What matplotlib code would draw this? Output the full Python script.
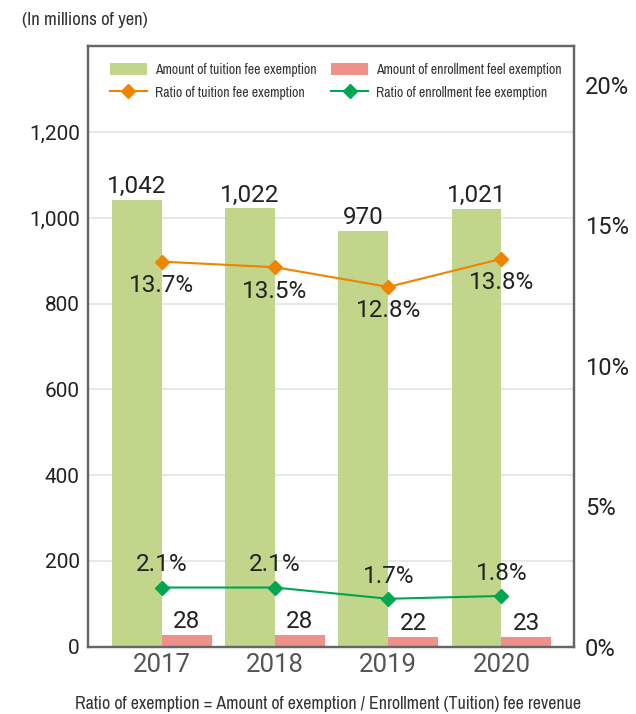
import matplotlib
matplotlib.use("Agg")
import matplotlib.pyplot as plt
import numpy as np
from matplotlib.patches import Patch
from matplotlib.lines import Line2D
from matplotlib import font_manager
from matplotlib.font_manager import FontProperties

years = ["2017", "2018", "2019", "2020"]
tuition_amount = [1042, 1022, 970, 1021]
enroll_amount = [28, 28, 22, 23]
tuition_ratio = [13.7, 13.5, 12.8, 13.8]
enroll_ratio = [2.1, 2.1, 1.7, 1.8]
left_ticks = [0, 200, 400, 600, 800, 1000, 1200]
right_ticks = [0, 5, 10, 15, 20]

names = {f.name for f in font_manager.fontManager.ttflist}
main_font = "Roboto" if "Roboto" in names else "DejaVu Sans"

def narrow_props(size):
    files = font_manager.findSystemFonts()
    for key in ("ArchivoNarrow[wght].ttf", "DejaVuSansCondensed.ttf"):
        for f in files:
            if f.endswith(key):
                return FontProperties(fname=f, size=size)
    return FontProperties(family="DejaVu Sans", stretch="condensed", size=size)

GREEN_BAR = "#c1d58b"
RED_BAR = "#f0908a"
ORANGE = "#f08300"
GREEN_LINE = "#00a652"
FRAME = "#666666"
TXT = "#222222"

fig = plt.figure(figsize=(6.36, 7.14), dpi=100)
ax = fig.add_axes([0.1384, 0.0945, 0.7641, 0.8404])
ax2 = ax.twinx()

x = np.arange(len(years))
w = 0.441
ax.bar(x - w / 2, tuition_amount, width=w, color=GREEN_BAR, zorder=2)
ax.bar(x + w / 2, enroll_amount, width=w, color=RED_BAR, zorder=2)

ax.set_xlim(-0.65, 3.64)
ax.set_ylim(0, 1400)
ax.set_yticks(left_ticks)
ax.set_yticklabels([f"{v:,}" for v in left_ticks], fontsize=15, color=TXT, family=main_font)
ax.set_xticks(x)
ax.set_xticklabels(years, fontsize=18.5, color="#555555", family=main_font)
ax.tick_params(axis="y", length=0, pad=6)
ax.tick_params(axis="x", length=0, pad=5)
ax.grid(axis="y", color="#e3e3e3", linewidth=1.2, zorder=0)
ax.set_axisbelow(True)

rmax = 1400 * 20 / 1311
ax2.set_ylim(0, rmax)
ax2.set_yticks(right_ticks)
ax2.set_yticklabels([f"{v}%" for v in right_ticks], fontsize=17, color=TXT, family=main_font)
ax2.tick_params(axis="y", length=0, pad=8)

for a in (ax, ax2):
    for s in a.spines.values():
        s.set_color(FRAME)
        s.set_linewidth(1.6)

ax2.plot(x, tuition_ratio, color=ORANGE, lw=1.5, marker="D", ms=7, zorder=4)
ax2.plot(x, enroll_ratio, color=GREEN_LINE, lw=1.5, marker="D", ms=7, zorder=4)

vfs = 17.5
for xi, v in zip(x, tuition_amount):
    ax.text(xi - w / 2, v + 4, f"{v:,}", ha="center", va="bottom", fontsize=vfs, color=TXT, family=main_font, zorder=5)
for xi, v in zip(x, enroll_amount):
    ax.text(xi + w / 2, v + 4, f"{v:,}", ha="center", va="bottom", fontsize=vfs, color=TXT, family=main_font, zorder=5)
for xi, v in zip(x, tuition_ratio):
    ax2.annotate(f"{v}%", (xi, v), xytext=(0, -9), textcoords="offset points", ha="center", va="top",
                 fontsize=vfs, color=TXT, family=main_font, zorder=5)
for xi, v in zip(x, enroll_ratio):
    ax2.annotate(f"{v}%", (xi, v), xytext=(0, 8), textcoords="offset points", ha="center", va="bottom",
                 fontsize=vfs, color=TXT, family=main_font, zorder=5)

handles = [
    Patch(facecolor=GREEN_BAR, edgecolor="none"),
    Line2D([], [], color=ORANGE, lw=1.5, marker="D", ms=7),
    Patch(facecolor=RED_BAR, edgecolor="none"),
    Line2D([], [], color=GREEN_LINE, lw=1.5, marker="D", ms=7),
]
labels = [
    "Amount of tuition fee exemption",
    "Ratio of tuition fee exemption",
    "Amount of enrollment feel exemption",
    "Ratio of enrollment fee exemption",
]
leg = ax2.legend(handles, labels, ncol=2, loc="upper left", bbox_to_anchor=(0.045, 0.973),
                 borderaxespad=0, borderpad=0,
                 frameon=False, prop=narrow_props(9.9),
                 handlelength=2.7, handleheight=0.9, columnspacing=1.1, handletextpad=0.55,
                 labelspacing=0.65)
for t in leg.get_texts():
    t.set_color("#333333")

fig.text(22 / 636, 1 - 20 / 714, "(In millions of yen)", ha="left", va="center",
         fontproperties=narrow_props(13.4), color="#333333")
fig.text(75 / 636, 1 - 704 / 714, "Ratio of exemption = Amount of exemption / Enrollment (Tuition) fee revenue",
         ha="left", va="center", fontproperties=narrow_props(12.9), color="#333333")

fig.savefig("out.png", dpi=100)
